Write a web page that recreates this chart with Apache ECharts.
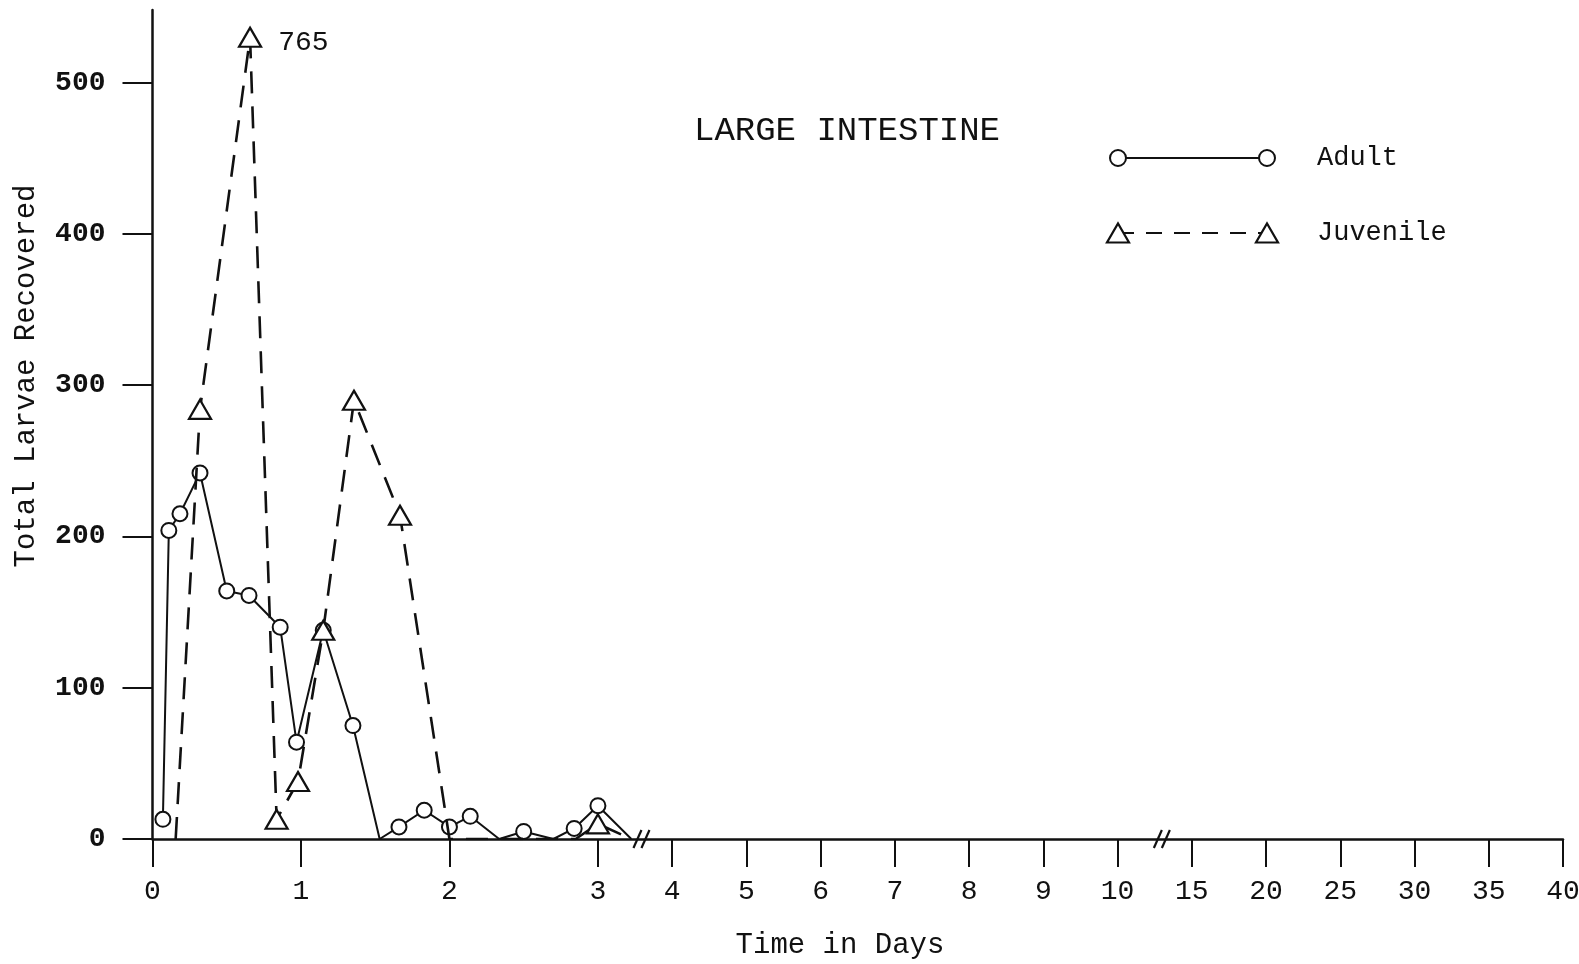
<!DOCTYPE html>
<html>
<head>
<meta charset="utf-8">
<script src="https://cdn.jsdelivr.net/npm/echarts@6/dist/echarts.min.js"></script>
<style>
  html, body { margin: 0; padding: 0; background: #ffffff; }
  #chart { width: 1579px; height: 964px; }
</style>
</head>
<body>
<div id="chart"></div>
<script>
// ---- data ----
const adultDays   = [0.07, 0.11, 0.185, 0.32, 0.50, 0.65, 0.86, 0.97, 1.15, 1.35, 1.53, 1.66, 1.83, 2.00, 2.14, 2.335, 2.50, 2.70, 2.84, 3.00, 3.45];
const adultCounts = [13,   204,  215,   242,  164,  161,  140,  64,   138,  75,   0,    8,    19,   8,    15,   0,     5,    0,    7,    22,   0];

const juvenileDays   = [0.156, 0.32, 0.657, 0.836, 0.98, 1.15, 1.357, 1.667, 2.00, 2.85, 3.00, 3.45];
const juvenileCounts = [0,     284,  765,   13,    38,   138,  290,   214,   0,    0,    10,   0];

const tickDays   = [0, 1, 2, 3, 4, 5, 6, 7, 8, 9, 10, 15, 20, 25, 30, 35, 40];
const tickLabels = ['0','1','2','3','4','5','6','7','8','9','10','15','20','25','30','35','40'];
const yTicks     = [0, 100, 200, 300, 400, 500];
const breakDays  = [3.6, 13.05];

const Y_MAX = 548;      // top of the drawn y axis
const Y_CLIP = 530;     // off-scale values are drawn here with their value as a label

// piecewise time scale: 0-3 days at 2 units/day, 3-10 at 1 unit/day, 10-40 at 1 unit / 5 days
function pos(d) {
  if (d <= 3) return 2 * d;
  if (d <= 10) return 6 + (d - 3);
  return 13 + (d - 10) / 5;
}

const FONT = '"Liberation Mono", "DejaVu Sans Mono", monospace';
const INK = '#111111';

function buildData(days, counts) {
  return days.map((d, i) => {
    const v = counts[i];
    const item = { value: [pos(d), Math.min(v, Y_CLIP)], raw: v };
    if (v === 0) item.symbol = 'none';
    if (v > Y_CLIP) {
      item.label = {
        show: true, position: 'right', distance: 16, offset: [0, 5],
        formatter: String(v), fontFamily: FONT, fontSize: 28, color: INK
      };
    }
    return item;
  });
}

const chart = echarts.init(document.getElementById('chart'), null, { renderer: 'canvas' });

const option = {
  animation: false,
  backgroundColor: '#ffffff',
  grid: { left: 152.5, right: 16, top: 10, bottom: 125, containLabel: false, outerBoundsMode: 'none' },
  xAxis: {
    type: 'value', min: 0, max: pos(40), interval: 1,
    splitLine: { show: false },
    axisLine: { show: true, onZero: false, lineStyle: { color: INK, width: 2.5 } },
    axisTick: { show: true, length: 28, inside: false, customValues: tickDays.map(pos), lineStyle: { color: INK, width: 2 } },
    axisLabel: {
      show: true, margin: 39, customValues: tickDays.map(pos),
      fontFamily: FONT, fontSize: 28, color: INK,
      formatter: function (val) {
        const i = tickDays.findIndex(d => Math.abs(pos(d) - val) < 1e-6);
        return i >= 0 ? tickLabels[i] : '';
      }
    }
  },
  yAxis: {
    type: 'value', min: 0, max: Y_MAX, interval: 100,
    splitLine: { show: false },
    axisLine: { show: true, lineStyle: { color: INK, width: 2.5 } },
    axisTick: { show: true, length: 30, customValues: yTicks, lineStyle: { color: INK, width: 2 } },
    axisLabel: { show: true, margin: 47, customValues: yTicks, fontFamily: FONT, fontSize: 28, fontWeight: 'bold', color: INK }
  },
  series: [
    {
      name: 'Adult', type: 'line',
      data: buildData(adultDays, adultCounts),
      symbol: 'circle', symbolSize: 15, showAllSymbol: true,
      lineStyle: { color: INK, width: 2 },
      itemStyle: { color: '#ffffff', borderColor: INK, borderWidth: 2 },
      z: 3
    },
    {
      name: 'Juvenile', type: 'line',
      data: buildData(juvenileDays, juvenileCounts),
      symbol: 'triangle', symbolSize: [22, 19], showAllSymbol: true,
      lineStyle: { color: INK, width: 2.6, type: [22, 13] },
      itemStyle: { color: '#ffffff', borderColor: INK, borderWidth: 2.2 },
      z: 4
    },
    {
      name: 'breaks', type: 'custom', clip: false, silent: true,
      data: breakDays.map(d => [pos(d)]),
      renderItem: function (params, api) {
        const p = api.coord([api.value(0), 0]);
        const mk = dx => ({
          type: 'line',
          shape: { x1: p[0] + dx - 5, y1: p[1] + 9, x2: p[0] + dx + 3, y2: p[1] - 9 },
          style: { stroke: INK, lineWidth: 2.2 }
        });
        return { type: 'group', children: [mk(-4), mk(4)] };
      },
      z: 5
    }
  ],
  graphic: [
    { type: 'text', x: 847, y: 131,
      style: { text: 'LARGE INTESTINE', font: '34px ' + FONT, fill: INK, textAlign: 'center', textVerticalAlign: 'middle' } },
    { type: 'text', x: 840, y: 945,
      style: { text: 'Time in Days', font: '29px ' + FONT, fill: INK, textAlign: 'center', textVerticalAlign: 'middle' } },
    { type: 'text', x: 26, y: 376, rotation: Math.PI / 2,
      style: { text: 'Total Larvae Recovered', font: '29px ' + FONT, fill: INK, textAlign: 'center', textVerticalAlign: 'middle' } },
    // legend: Adult
    { type: 'line', shape: { x1: 1118, y1: 158, x2: 1267, y2: 158 }, style: { stroke: INK, lineWidth: 2 } },
    { type: 'circle', shape: { cx: 1118, cy: 158, r: 8 }, style: { fill: '#fff', stroke: INK, lineWidth: 2 }, z: 10 },
    { type: 'circle', shape: { cx: 1267, cy: 158, r: 8 }, style: { fill: '#fff', stroke: INK, lineWidth: 2 }, z: 10 },
    { type: 'text', x: 1317, y: 158,
      style: { text: 'Adult', font: '27px ' + FONT, fill: INK, textAlign: 'left', textVerticalAlign: 'middle' } },
    // legend: Juvenile
    { type: 'line', shape: { x1: 1118, y1: 233, x2: 1267, y2: 233 }, style: { stroke: INK, lineWidth: 2, lineDash: [16, 12] } },
    { type: 'polygon', shape: { points: [[1107, 242.5], [1129, 242.5], [1118, 223.5]] }, style: { fill: '#fff', stroke: INK, lineWidth: 2.2 }, z: 10 },
    { type: 'polygon', shape: { points: [[1256, 242.5], [1278, 242.5], [1267, 223.5]] }, style: { fill: '#fff', stroke: INK, lineWidth: 2.2 }, z: 10 },
    { type: 'text', x: 1317, y: 233,
      style: { text: 'Juvenile', font: '27px ' + FONT, fill: INK, textAlign: 'left', textVerticalAlign: 'middle' } }
  ]
};

chart.setOption(option);
</script>
</body>
</html>
